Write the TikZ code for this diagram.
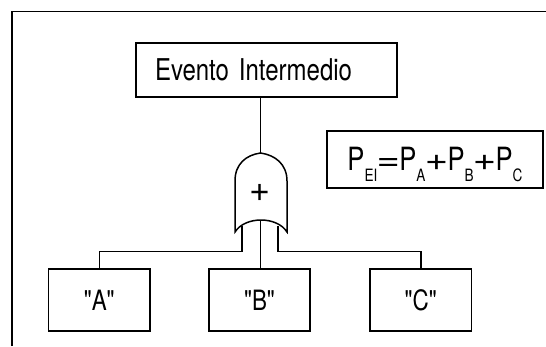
\documentclass[tikz,border=0pt]{standalone}
\usepackage{fontspec}
\setmainfont[FakeStretch=0.8,Ligatures=TeXOff]{TeX Gyre Heros}
\newfontfamily\signfont{TeX Gyre Heros}
\usetikzlibrary{positioning}
\newcommand{\sub}[1]{\lower11pt\hbox{\fontsize{17}{17}\selectfont #1}}
\newcommand{\op}[1]{\hbox to 22pt{\hss\signfont\scalebox{1.25}[1]{#1}\hss}}

\begin{document}
\begin{tikzpicture}[x=1pt, y=-1pt, line width=1.5pt,
    every node/.style={font=\fontsize{30}{32}\selectfont},
    box/.style={draw, rectangle, inner sep=0pt}]
  \useasboundingbox (0,0) rectangle (546,346);
  \draw[line width=1.8pt] (12,346) -- (12,11.5) -- (546,11.5);

  \node[box, minimum width=261pt, minimum height=54pt, text width=223pt, align=left] (ev) at (266.5,70) {Evento Intermedio};
  \node[box, minimum width=216pt, minimum height=57pt, text height=33pt, text depth=12pt, font=\fontsize{32}{32}\selectfont] (eq) at (435,159.5)
    {P\sub{EI}\op{=}P\sub{A}\op{+}P\sub{B}\op{+}P\sub{C}};
  \node[box, minimum width=101.5pt, minimum height=62pt, font=\fontsize{28}{30}\selectfont] (a) at (99.25,300) {"A"};
  \node[box, minimum width=101pt, minimum height=62pt, font=\fontsize{28}{30}\selectfont] (b) at (259.5,300) {"B"};
  \node[box, minimum width=101.5pt, minimum height=62pt, font=\fontsize{28}{30}\selectfont] (c) at (420.75,300) {"C"};

  % or gate
  \coordinate (gtop) at (260.5,153);
  \coordinate (gl) at (242,226);
  \coordinate (gm) at (260.5,220);
  \coordinate (gr) at (278,226);
  \draw (235,232) -- (235,181) .. controls (235,164) and (246,155) .. (gtop)
        .. controls (275,155) and (287,164) .. (287,181) -- (287,232)
        .. controls (277,216) and (245,216) .. cycle;
  \node[font=\signfont\fontsize{36}{36}\selectfont, inner sep=0pt] (plus) at (260.5,193) {+};

  \draw (ev.south -| gtop) -- (gtop);
  \draw (gl) -- (242,251.5) -| (a.north);
  \draw (gm) -- (gm |- b.north);
  \draw (gr) -- (278,251.5) -| (c.north);
\end{tikzpicture}
\end{document}
